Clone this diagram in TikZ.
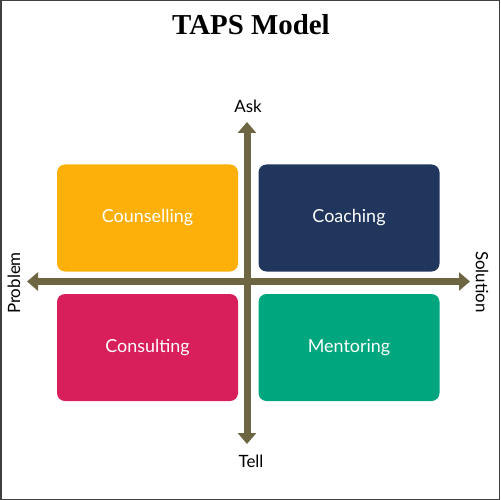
\documentclass[tikz,border=0pt]{standalone}
\usepackage{fontspec}
\setmainfont{Lato}
\newfontfamily\titlefont{Liberation Serif}
\usetikzlibrary{arrows.meta}
\definecolor{boxorange}{RGB}{253,176,10}
\definecolor{boxnavy}{RGB}{33,54,92}
\definecolor{boxcrimson}{RGB}{216,30,91}
\definecolor{boxgreen}{RGB}{0,166,125}
\definecolor{axisbrown}{RGB}{110,101,67}
\begin{document}
\begin{tikzpicture}[%
            x=1bp, y=-1bp,
            mybox/.style={shape=rectangle,rounded corners=8bp,inner sep=0pt,
                minimum width=181bp,minimum height=107bp,text=white,
                font=\fontsize{18}{20}\selectfont},
            myaxis/.style={line width=7bp,color=axisbrown,
                {Triangle[width=18bp,length=11bp]}-{Triangle[width=18bp,length=11bp]}},
            mylabel/.style={font=\fontsize{17}{19}\selectfont,inner sep=0pt}
    ]
        \path [use as bounding box] (0,0) rectangle (500,500);
        \draw [line width=1.5bp, color=black!75] (0.75,0.75) rectangle (499.25,499.25);

        \node [anchor=base, inner sep=0pt, font=\titlefont\bfseries\fontsize{29}{33}\selectfont]
            (title) at (251,35) {TAPS Model};

        % quadrants
        \node [mybox, fill=boxorange]   (counselling) at (147.5,218)   {Counselling};
        \node [mybox, fill=boxnavy]     (coaching)    at (349,218)     {Coaching};
        \node [mybox, fill=boxcrimson]  (consulting)  at (147.5,347.5) {Consulting};
        \node [mybox, fill=boxgreen]    (mentoring)   at (349,347.5)   {Mentoring};

        % axes
        \coordinate (top)    at (247,122);
        \coordinate (bottom) at (247,444);
        \coordinate (left)   at (27,281.5);
        \coordinate (right)  at (470,281.5);
        \draw [myaxis] (left) -- (right);
        \draw [myaxis] (bottom) -- (top);

        \node [mylabel, anchor=base] (ask)  at (248,113) {Ask};
        \node [mylabel, anchor=base] (tell) at (251,467) {Tell};
        \node [mylabel, rotate=90]   (problem)  at (14,283) {Problem};
        \node [mylabel, rotate=-90]  (solution) at (482,282) {Solution};
    \end{tikzpicture}
\end{document}
